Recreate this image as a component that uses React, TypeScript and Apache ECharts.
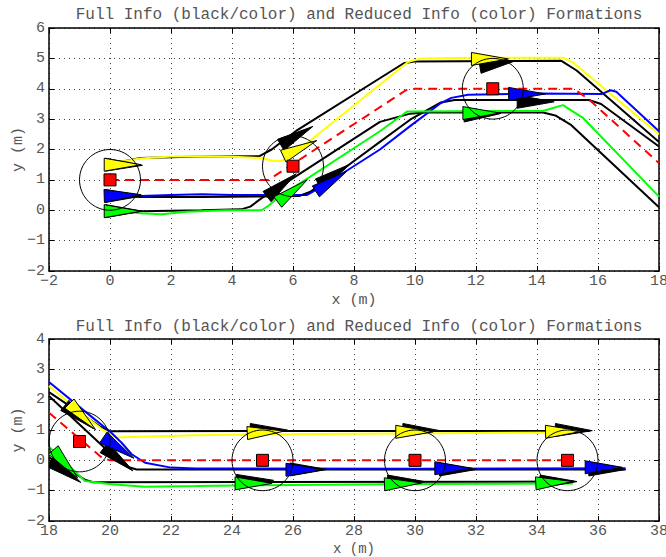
import React, { useEffect, useRef } from 'react';
import * as echarts from 'echarts';

const TITLE = 'Full Info (black/color) and Reduced Info (color) Formations';
const X_NAME = 'x (m)';
const Y_NAME = 'y (m)';

// ---- top panel trajectories [x, y] ----
const topRef = [[0, 1], [5.2, 1], [9.7, 3.95], [10, 4], [15.2, 4], [15.7, 3.65], [18, 1.55]];
const topBlackUpper = [[0, 1.52], [0.5, 1.62], [1, 1.72], [3, 1.77], [4.9, 1.78], [5.3, 2.0], [6.14, 2.64], [9.63, 4.84], [9.98, 4.9], [14.8, 4.92], [15.3, 4.6], [18, 2.25]];
const topBlackMid = [[0, 0.5], [1, 0.44], [3, 0.44], [5, 0.45], [6.2, 0.47], [6.6, 0.62], [7.5, 1.25], [8.85, 2.25], [9.84, 2.98], [10.85, 3.55], [11.3, 3.63], [15.7, 3.63], [16.1, 3.5], [18, 2.1]];
const topBlackLower = [[0, 0.0], [1, -0.03], [3, 0.0], [4.3, 0.03], [4.6, 0.12], [5.03, 0.44], [5.9, 0.99], [8.85, 2.91], [9.84, 3.18], [10.3, 3.22], [14.2, 3.22], [14.6, 3.12], [15.1, 2.82], [18, 0.1]];
const topYellow = [[0, 1.55], [0.5, 1.62], [1, 1.7], [2, 1.77], [3, 1.78], [4, 1.76], [5, 1.72], [5.3, 1.63], [5.6, 1.62], [5.9, 1.76], [6.2, 2.0], [9.77, 4.88], [10.19, 5.0], [12, 5.02], [14.86, 5.02], [15.2, 4.85], [18, 2.5]];
const topBlue = [[0, 0.5], [0.5, 0.47], [1, 0.47], [2, 0.5], [3, 0.53], [4, 0.5], [5, 0.5], [6.45, 0.5], [6.9, 0.75], [8.85, 2.0], [9.84, 2.77], [10.85, 3.53], [11.19, 3.7], [11.74, 3.8], [14, 3.84], [16.13, 3.83], [16.41, 3.95], [16.6, 3.9], [18, 2.6]];
const topGreen = [[0, 0], [0.5, -0.05], [1, -0.1], [1.7, -0.13], [2.5, -0.05], [3.8, 0.0], [4.97, 0.0], [5.2, 0.15], [5.46, 0.38], [8.85, 2.6], [9.74, 3.25], [14.19, 3.27], [14.85, 3.46], [15.52, 3.03], [18, 0.45]];

// ---- bottom panel trajectories [x, y] ----
const botRef = [[18, 1.57], [19.73, 0.09], [20, 0], [35, 0]];
const botBlackUpper = [[18, 2.25], [19.7, 1.1], [20, 0.96], [35.73, 0.97]];
const botBlackMid = [[18, 2.12], [19.81, 0.42], [20.6, -0.22], [20.87, -0.3], [36.9, -0.3]];
const botBlackLower = [[18, 0.1], [19.2, -0.65], [19.45, -0.72], [35.2, -0.7]];
const botYellow = [[18, 2.45], [19.0, 1.6], [19.95, 0.86], [20.16, 0.75], [21, 0.78], [22.8, 0.83], [24.5, 0.85], [28, 0.88], [35.46, 0.92]];
const botBlue = [[18, 2.58], [19.5, 1.35], [20, 0.95], [20.38, 0.58], [20.71, 0.2], [21.15, -0.08], [22, -0.24], [22.8, -0.27], [30, -0.28], [36.9, -0.26]];
const botGreen = [[18, 0.45], [19.18, -0.68], [20.05, -0.79], [21.15, -0.87], [22.8, -0.85], [25, -0.82], [30, -0.78], [35.18, -0.76]];

// ---- robot poses [x, y, heading deg] ----
const topBlackPoses = [[-0.15, 1.5, -1], [-0.15, 0.47, 0], [-0.15, -0.03, 0], [5.6, 2.15, 30], [6.85, 0.85, 33], [5.15, 0.45, 38], [12.13, 4.72, 10], [13.35, 3.57, 0], [11.6, 3.12, 3]];
const topYellowPoses = [[-0.19, 1.5, 0], [5.68, 1.78, 25], [11.85, 4.98, 0]];
const topBluePoses = [[-0.19, 0.47, 2], [6.75, 0.62, 33], [13.07, 3.83, 0]];
const topGreenPoses = [[-0.19, -0.03, 0], [5.5, 0.27, 37], [11.57, 3.2, 0]];

const botBlackPoses = [[18.52, 1.81, -39], [19.81, 0.42, -39], [18.05, -0.03, -35], [24.6, 1.0, 0], [25.9, -0.3, 0], [24.15, -0.68, 1], [29.6, 1.0, -1], [30.8, -0.3, 0], [29.1, -0.7, 0], [34.6, 1.0, -1], [35.7, -0.3, 0], [34.1, -0.7, 0]];
const botYellowPoses = [[18.67, 1.87, -45], [24.5, 0.9, 3], [29.37, 0.94, 0], [34.28, 0.94, 1]];
const botBluePoses = [[19.78, 0.75, -34], [25.77, -0.31, 0], [30.65, -0.26, 0], [35.58, -0.23, 0]];
const botGreenPoses = [[18.14, 0.34, -49], [24.1, -0.76, 0], [29.0, -0.79, 2], [33.96, -0.76, 3]];

// ---- formation centres (red squares, circles of radius 1 m) ----
const topCentres = [[0, 1], [6, 1.45], [12.55, 4]];
const botCentres = [[19, 0.62], [25, 0], [30, 0], [35, 0]];
const CIRCLE_R = 1;

const FONT = 'Liberation Mono';
const TXT = '#555';

function triRender(color: string) {
  return (params: any, api: any) => {
    const p = api.coord([api.value(0), api.value(1)]);
    const a = (api.value(2) * Math.PI) / 180;
    const dx = Math.cos(a), dy = -Math.sin(a);
    const L = 37, W = 6.5;
    const pts = [
      [p[0] + dx * L, p[1] + dy * L],
      [p[0] - dy * W, p[1] + dx * W],
      [p[0] + dy * W, p[1] - dx * W],
    ];
    return { type: 'polygon', shape: { points: pts }, style: { fill: color, stroke: '#000', lineWidth: 1 } };
  };
}

function circleRender(params: any, api: any) {
  const c = api.coord([api.value(0), api.value(1)]);
  const s = api.size([CIRCLE_R, CIRCLE_R]);
  return { type: 'ellipse', shape: { cx: c[0], cy: c[1], rx: s[0], ry: s[1] }, style: { fill: 'none', stroke: '#000', lineWidth: 1 } };
}

const fmt = (v: number) => (v < 0 ? '\u2212' + Math.abs(v) : String(v));

function mainX(grid: number, min: number, max: number, nameGap: number, nameSize: number) {
  return {
    gridIndex: grid, type: 'value', min, max, interval: 2, position: 'bottom',
    axisLine: { show: true, onZero: false, lineStyle: { color: '#000', width: 1.5 } },
    axisTick: { show: true, inside: true, length: 5, lineStyle: { color: '#000' } },
    axisLabel: { color: TXT, fontFamily: FONT, fontSize: 15, margin: 3, formatter: fmt, showMinLabel: true, showMaxLabel: true },
    splitLine: { show: true, lineStyle: { color: '#444', type: [1, 4], width: 1 } },
    name: X_NAME, nameLocation: 'middle', nameGap, nameMoveOverlap: false,
    nameTextStyle: { color: TXT, fontFamily: FONT, fontSize: nameSize },
  };
}
function sideX(grid: number, min: number, max: number) {
  return {
    gridIndex: grid, type: 'value', min, max, interval: 2, position: 'top',
    axisLine: { show: true, onZero: false, lineStyle: { color: '#000', width: 1.5 } },
    axisTick: { show: true, inside: true, length: 5, lineStyle: { color: '#000' } },
    axisLabel: { show: false }, splitLine: { show: false },
  };
}
function mainY(grid: number, min: number, max: number) {
  return {
    gridIndex: grid, type: 'value', min, max, interval: 1, position: 'left',
    axisLine: { show: true, onZero: false, lineStyle: { color: '#000', width: 1.5 } },
    axisTick: { show: true, inside: true, length: 5, lineStyle: { color: '#000' } },
    axisLabel: { color: TXT, fontFamily: FONT, fontSize: 15, margin: 4, formatter: fmt, showMinLabel: true, showMaxLabel: true },
    splitLine: { show: true, lineStyle: { color: '#444', type: [1, 4], width: 1 } },
    name: Y_NAME, nameLocation: 'middle', nameGap: 23, nameRotate: 90, nameMoveOverlap: false,
    nameTextStyle: { color: TXT, fontFamily: FONT, fontSize: 15 },
  };
}
function sideY(grid: number, min: number, max: number) {
  return {
    gridIndex: grid, type: 'value', min, max, interval: 1, position: 'right',
    axisLine: { show: true, onZero: false, lineStyle: { color: '#000', width: 1.5 } },
    axisTick: { show: true, inside: true, length: 5, lineStyle: { color: '#000' } },
    axisLabel: { show: false }, splitLine: { show: false },
  };
}

function line(data: number[][], color: string, ax: number, z: number, dashed = false) {
  return {
    type: 'line', data, xAxisIndex: ax, yAxisIndex: ax, showSymbol: false, symbol: 'none', clip: true, z, silent: true,
    lineStyle: { color, width: 2, type: dashed ? [9, 6] : 'solid' },
  };
}
function tris(data: number[][], color: string, ax: number, z: number) {
  return { type: 'custom', data, xAxisIndex: ax, yAxisIndex: ax, renderItem: triRender(color), z, silent: true, clip: true };
}
function circles(data: number[][], ax: number) {
  return { type: 'custom', data, xAxisIndex: ax, yAxisIndex: ax, renderItem: circleRender, z: 6, silent: true };
}
function squares(data: number[][], ax: number) {
  return {
    type: 'scatter', data, xAxisIndex: ax, yAxisIndex: ax, symbol: 'rect', symbolSize: 12, z: 7, silent: true,
    itemStyle: { color: '#ff0000', borderColor: '#000', borderWidth: 1, opacity: 1 },
  };
}

export default function App() {
  const ref = useRef<HTMLDivElement>(null);
  useEffect(() => {
    document.body.style.margin = '0';
    const chart = echarts.init(ref.current!, null, { renderer: 'svg' });
    const titleStyle = { color: TXT, fontFamily: FONT, fontSize: 16, fontWeight: 'normal' };
    chart.setOption({
      animation: false,
      backgroundColor: '#fff',
      title: [
        { text: TITLE, left: 354, top: 2, textAlign: 'center', textStyle: titleStyle },
        { text: TITLE, left: 354, top: 314, textAlign: 'center', textStyle: titleStyle },
      ],
      grid: [
        { left: 49, top: 28, width: 610, height: 243, outerBoundsMode: 'none', containLabel: false },
        { left: 49, top: 339, width: 610, height: 182, outerBoundsMode: 'none', containLabel: false },
      ],
      xAxis: [mainX(0, -2, 18, 22, 15), mainX(1, 18, 38, 21, 14), sideX(0, -2, 18), sideX(1, 18, 38)],
      yAxis: [mainY(0, -2, 6), mainY(1, -2, 4), sideY(0, -2, 6), sideY(1, -2, 4)],
      series: [
        line(topBlackUpper, '#000', 0, 2), line(topBlackMid, '#000', 0, 2), line(topBlackLower, '#000', 0, 2),
        line(topYellow, '#ffff00', 0, 3), line(topBlue, '#0000ff', 0, 3), line(topGreen, '#00ff00', 0, 3),
        line(topRef, '#ff0000', 0, 3, true),
        tris(topBlackPoses, '#000', 0, 4),
        tris(topYellowPoses, '#ffff00', 0, 5), tris(topBluePoses, '#0000ff', 0, 5), tris(topGreenPoses, '#00ff00', 0, 5),
        circles(topCentres, 0), squares(topCentres, 0),

        line(botBlackUpper, '#000', 1, 2), line(botBlackMid, '#000', 1, 2), line(botBlackLower, '#000', 1, 2),
        line(botYellow, '#ffff00', 1, 3), line(botBlue, '#0000ff', 1, 3), line(botGreen, '#00ff00', 1, 3),
        line(botRef, '#ff0000', 1, 3, true),
        tris(botBlackPoses, '#000', 1, 4),
        tris(botYellowPoses, '#ffff00', 1, 5), tris(botBluePoses, '#0000ff', 1, 5), tris(botGreenPoses, '#00ff00', 1, 5),
        circles(botCentres, 1), squares(botCentres, 1),
      ],
    });
    return () => chart.dispose();
  }, []);
  return <div ref={ref} style={{ width: 666, height: 557 }} />;
}
